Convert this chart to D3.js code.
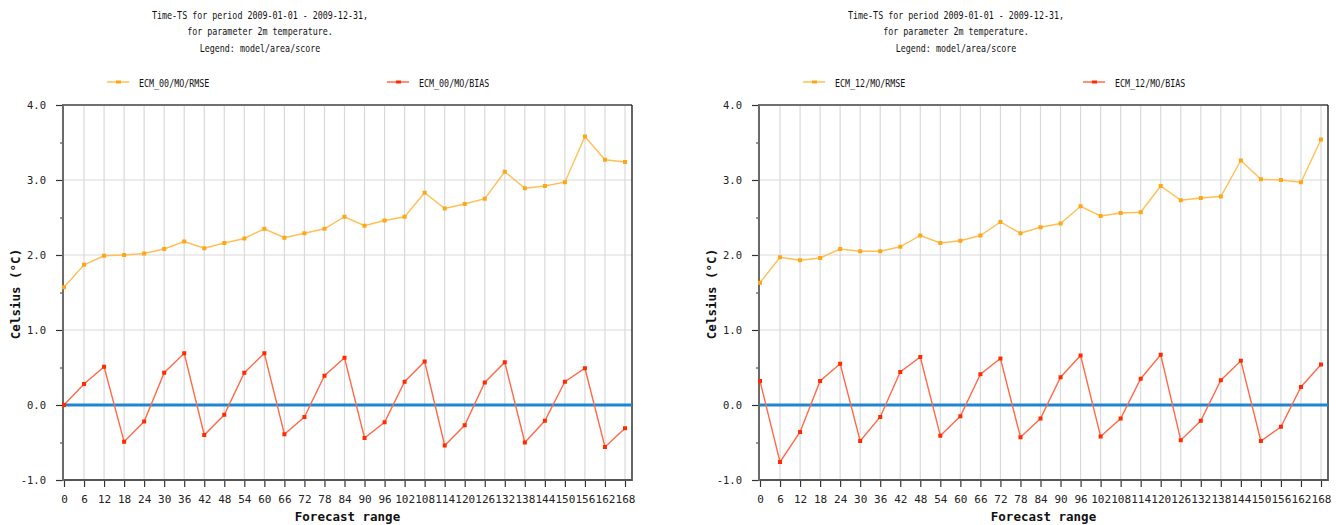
<!DOCTYPE html>
<html>
<head>
<meta charset="utf-8">
<title>Time-TS 2m temperature</title>
<script src="https://d3js.org/d3.v7.min.js"></script>
<style>
body { margin: 0; background: #fff; }
.tick text { font-family: "DejaVu Sans Mono", monospace; fill: #222; }
.lbl { font-family: "DejaVu Sans Mono", monospace; font-weight: bold; font-size: 12.5px; fill: #111; }
.ttl { font-family: "DejaVu Sans Mono", monospace; font-size: 11px; fill: #111; }
</style>
</head>
<body>
<script>
// forecast steps (hours)
var steps = [0,6,12,18,24,30,36,42,48,54,60,66,72,78,84,90,96,102,108,114,120,126,132,138,144,150,156,162,168];

// ECM_00 run
var rmse00 = [1.57,1.87,1.99,2.00,2.02,2.08,2.18,2.09,2.16,2.22,2.35,2.23,2.29,2.35,2.51,2.39,2.46,2.51,2.83,2.62,2.68,2.75,3.11,2.89,2.92,2.97,3.58,3.27,3.24];
var bias00 = [0.00,0.28,0.51,-0.49,-0.22,0.43,0.69,-0.40,-0.13,0.43,0.69,-0.39,-0.16,0.39,0.63,-0.44,-0.23,0.31,0.58,-0.54,-0.27,0.30,0.57,-0.50,-0.21,0.31,0.49,-0.56,-0.31];

// ECM_12 run
var rmse12 = [1.63,1.97,1.93,1.96,2.08,2.05,2.05,2.11,2.26,2.16,2.19,2.26,2.44,2.29,2.37,2.42,2.65,2.52,2.56,2.57,2.92,2.73,2.76,2.78,3.26,3.01,3.00,2.97,3.54];
var bias12 = [0.32,-0.76,-0.36,0.32,0.55,-0.48,-0.16,0.44,0.64,-0.41,-0.15,0.41,0.62,-0.43,-0.18,0.37,0.66,-0.42,-0.18,0.35,0.67,-0.47,-0.21,0.33,0.59,-0.48,-0.29,0.24,0.54];

var yMajor = [-1,0,1,2,3,4];
var yMinor = [-0.5,0.5,1.5,2.5,3.5];
var titleLines = ["Time-TS for period 2009-01-01 - 2009-12-31,", "for parameter 2m temperature.", "Legend: model/area/score"];

var rmseColor = "#ffa617", rmseLine = "#ffbf55";
var biasColor = "#ff2a00", biasLine = "#ff6a4a";

var svg = d3.select("body").append("svg")
    .attr("width", 1337).attr("height", 525);
svg.append("rect").attr("width", 1337).attr("height", 525).attr("fill", "#fff");

var y = d3.scaleLinear().domain([-1, 4]).range([480, 105]);

function panel(off, run, rmse, bias) {
  var left = 63 + off, right = 632 + off;
  var x = d3.scaleLinear().domain([0, 168]).range([64 + off, 625 + off]);
  var g = svg.append("g");

  // title (narrow font, squeezed)
  titleLines.forEach(function(t, i) {
    g.append("g").attr("transform", "translate(" + (260 + off) + "," + (19 + i * 16.3) + ") scale(0.76,1)")
      .append("text").attr("class", "ttl").attr("text-anchor", "middle").text(t);
  });

  // legend
  var leg = [
    {name: run + "/MO/RMSE", c: rmseColor, lc: rmseLine, x: 107},
    {name: run + "/MO/BIAS", c: biasColor, lc: biasLine, x: 387}
  ];
  leg.forEach(function(l) {
    g.append("line").attr("x1", l.x + off).attr("x2", l.x + 22 + off)
      .attr("y1", 82).attr("y2", 82).attr("stroke", l.lc).attr("stroke-width", 1.5);
    g.append("rect").attr("x", l.x + 9 + off).attr("y", 80.5).attr("width", 5).attr("height", 3).attr("fill", l.c);
    g.append("g").attr("transform", "translate(" + (l.x + 32 + off) + ",87) scale(0.76,1)")
      .append("text").attr("class", "ttl").text(l.name);
  });

  // grid
  g.selectAll(".vg").data(steps.slice(1)).enter().append("line")
    .attr("x1", function(d) { return x(d); }).attr("x2", function(d) { return x(d); })
    .attr("y1", 105).attr("y2", 480).attr("stroke", "#d9d9d9").attr("stroke-width", 1.2);
  g.selectAll(".hg").data([1, 2, 3]).enter().append("line")
    .attr("x1", left).attr("x2", right)
    .attr("y1", function(d) { return y(d); }).attr("y2", function(d) { return y(d); })
    .attr("stroke", "#d9d9d9").attr("stroke-width", 1.2);

  // frame
  g.append("line").attr("x1", left).attr("x2", right).attr("y1", 105).attr("y2", 105)
    .attr("stroke", "#707070").attr("stroke-width", 2);
  g.append("line").attr("x1", right).attr("x2", right).attr("y1", 105).attr("y2", 481)
    .attr("stroke", "#111").attr("stroke-width", 1.3);

  // axes
  var xa = g.append("g").attr("transform", "translate(0,480)")
    .call(d3.axisBottom(x).tickValues(steps).tickSize(7).tickPadding(8.5));
  xa.select(".domain").remove();
  xa.selectAll(".tick line").attr("stroke", "#333").attr("stroke-width", 1.2);
  xa.selectAll(".tick text").attr("font-size", "11px");
  g.append("line").attr("x1", left).attr("x2", right).attr("y1", 480).attr("y2", 480)
    .attr("stroke", "#555").attr("stroke-width", 2);

  var ya = g.append("g").attr("transform", "translate(" + left + ",0)")
    .call(d3.axisLeft(y).tickValues(yMajor).tickSize(7).tickPadding(10)
      .tickFormat(function(d) { return d3.format(".1f")(d).replace("\u2212", "-"); }));
  ya.select(".domain").remove();
  ya.selectAll(".tick line").attr("stroke", "#333").attr("stroke-width", 1.2);
  ya.selectAll(".tick text").attr("font-size", "10.5px");
  var ym = g.append("g").attr("transform", "translate(" + left + ",0)")
    .call(d3.axisLeft(y).tickValues(yMinor).tickSize(3).tickFormat(""));
  ym.select(".domain").remove();
  ym.selectAll(".tick line").attr("stroke", "#333");
  g.append("line").attr("x1", left).attr("x2", left).attr("y1", 104).attr("y2", 481)
    .attr("stroke", "#6a6a6a").attr("stroke-width", 2);

  // axis labels
  g.append("text").attr("class", "lbl").attr("text-anchor", "middle")
    .attr("x", (left + right) / 2).attr("y", 520.5).text("Forecast range");
  g.append("text").attr("class", "lbl").attr("text-anchor", "middle")
    .attr("transform", "translate(" + (20 + off) + "," + 294 + ") rotate(-90)").text("Celsius (\u00b0C)");

  // zero line
  g.append("line").attr("x1", left + 1).attr("x2", right).attr("y1", y(0)).attr("y2", y(0))
    .attr("stroke", "#1e86d2").attr("stroke-width", 3);

  // series
  var line = d3.line().x(function(d, i) { return x(steps[i]); }).y(function(d) { return y(d); });
  [[rmse, rmseColor, rmseLine], [bias, biasColor, biasLine]].forEach(function(s) {
    g.append("path").datum(s[0]).attr("d", line).attr("fill", "none")
      .attr("stroke", s[2]).attr("stroke-width", 1.4);
    g.selectAll(null).data(s[0]).enter().append("rect")
      .attr("x", function(d, i) { return x(steps[i]) - 2; })
      .attr("y", function(d) { return y(d) - 2; })
      .attr("width", 4).attr("height", 4).attr("fill", s[1]);
  });
}

panel(0, "ECM_00", rmse00, bias00);
panel(696, "ECM_12", rmse12, bias12);
</script>
</body>
</html>
